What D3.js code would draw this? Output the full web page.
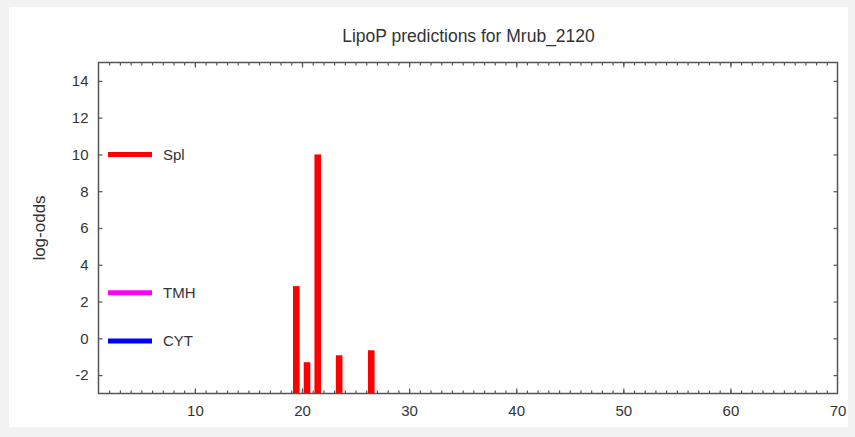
<!DOCTYPE html>
<html><head><meta charset="utf-8">
<script src="https://cdn.jsdelivr.net/npm/d3@7"></script>
<style>
html,body{margin:0;padding:0;background:#f2f2f2;}
svg{display:block;}
text{font-family:"Liberation Sans",Arial,Helvetica,sans-serif;fill:#333;}
</style></head>
<body>
<svg id="chart" width="855" height="437"></svg>
<script>
// Data
const title = "LipoP predictions for Mrub_2120";
const yLabel = "log-odds";
const positions = [19, 20, 21, 23, 26];
const splValues = [2.84, -1.30, 10.0, -0.92, -0.65];
const xTicks = [10, 20, 30, 40, 50, 60, 70];
const yTicks = [-2, 0, 2, 4, 6, 8, 10, 12, 14];
const legendNames = ["Spl", "TMH", "CYT"];
const legendColors = ["#ff0000", "#ff00ff", "#0000ff"];
const legendValues = [10, 2.48, -0.15];

(function(){
const svg = d3.select("#chart");
svg.append("rect").attr("x",9).attr("y",7).attr("width",839).attr("height",420).attr("fill","#ffffff");

const L = 98.5, R = 837.5, T = 62.5, B = 393.5;
const x = d3.scaleLinear().domain([1, 70]).range([L, R]);
const y = d3.scaleLinear().domain([-3, 15]).range([B, T]);
const fmt = (d) => String(d);

// title
svg.append("text").attr("x", 468.5).attr("y", 42).attr("text-anchor","middle")
  .style("font-size","17.5px").text(title);

// y label
svg.append("text").attr("transform","translate(45,228) rotate(-90)")
  .attr("text-anchor","middle").style("font-size","17px").text(yLabel);

// bars
const barW = 6.6;
svg.append("g").selectAll("rect").data(positions).join("rect")
  .attr("x", (d) => x(d + 0.47) - barW/2)
  .attr("width", barW)
  .attr("y", (d,i) => y(splValues[i]))
  .attr("height", (d,i) => y(-3) - y(splValues[i]))
  .attr("fill", "#ff0000");

// axes (ticks inward)
const axisColor = "#555";
const minor = d3.range(2, 70);
function styleAxis(g){
  g.select(".domain").remove();
  g.selectAll("line").attr("stroke", axisColor).attr("stroke-width", 1.2);
}
const gB = svg.append("g").attr("transform",`translate(0,${B})`)
  .call(d3.axisBottom(x).tickValues(minor).tickSize(-3).tickFormat(""));
styleAxis(gB);
const gBM = svg.append("g").attr("transform",`translate(0,${B})`)
  .call(d3.axisBottom(x).tickValues(xTicks.filter(v=>v<70)).tickSize(-5).tickFormat(""));
styleAxis(gBM);
const gBL = svg.append("g").attr("transform",`translate(0,${B})`)
  .call(d3.axisBottom(x).tickValues(xTicks).tickSize(0).tickPadding(12).tickFormat(fmt));
gBL.select(".domain").remove();
gBL.selectAll("text").style("font-size","15px").attr("fill","#333")
  .style("font-family",'"Liberation Sans",Arial,sans-serif');
const gT = svg.append("g").attr("transform",`translate(0,${T})`)
  .call(d3.axisTop(x).tickValues(minor).tickSize(-3).tickFormat(""));
styleAxis(gT);
const gTM = svg.append("g").attr("transform",`translate(0,${T})`)
  .call(d3.axisTop(x).tickValues(xTicks.filter(v=>v<70)).tickSize(-5).tickFormat(""));
styleAxis(gTM);
const gL = svg.append("g").attr("transform",`translate(${L},0)`)
  .call(d3.axisLeft(y).tickValues(yTicks).tickSize(-4).tickPadding(10).tickFormat(fmt));
gL.select(".domain").remove();
gL.selectAll("line").attr("stroke", axisColor).attr("stroke-width", 1.2);
gL.selectAll("text").style("font-size","15px").attr("fill","#333")
  .style("font-family",'"Liberation Sans",Arial,sans-serif');
const gR = svg.append("g").attr("transform",`translate(${R},0)`)
  .call(d3.axisRight(y).tickValues(yTicks).tickSize(-4).tickFormat(""));
styleAxis(gR);

// frame
svg.append("rect").attr("x",L).attr("y",T).attr("width",R-L).attr("height",B-T)
  .attr("fill","none").attr("stroke",axisColor).attr("stroke-width",1.5);

// legend
const lg = svg.append("g");
legendNames.forEach((n,i) => {
  const yy = y(legendValues[i]);
  lg.append("line").attr("x1",108).attr("x2",152).attr("y1",yy).attr("y2",yy)
    .attr("stroke",legendColors[i]).attr("stroke-width",5);
  lg.append("text").attr("x",163).attr("y",yy).attr("dy","0.35em")
    .style("font-size","15px").text(n);
});
})();
</script>
</body></html>
